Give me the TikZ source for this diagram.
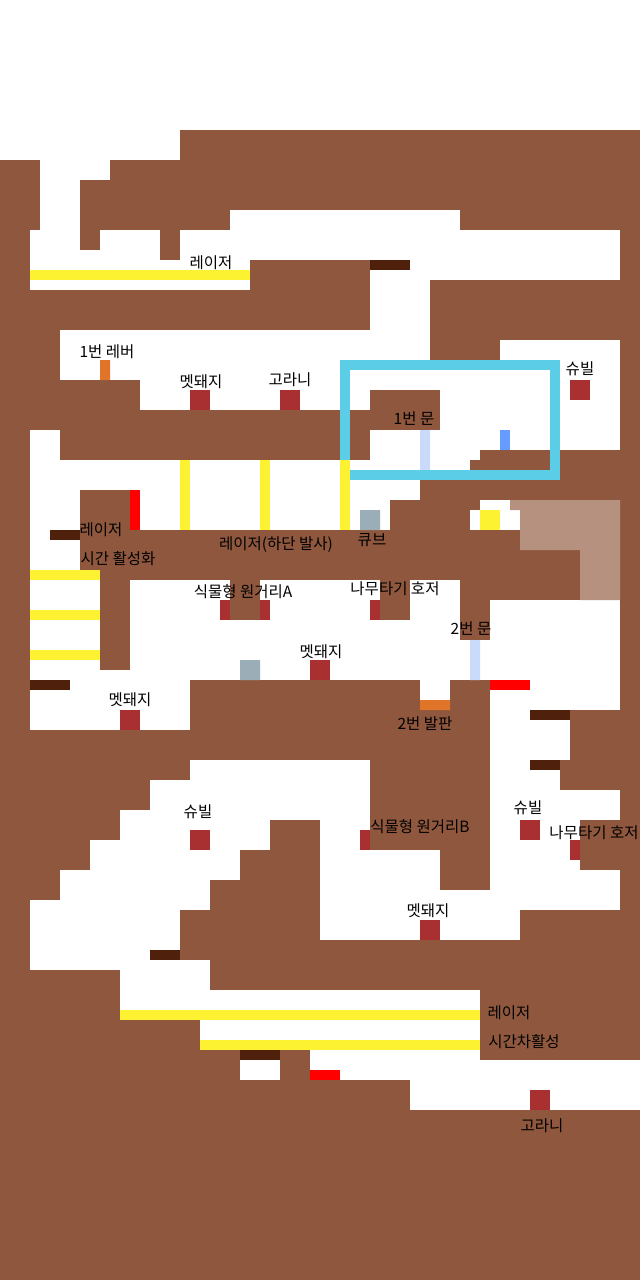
\documentclass[tikz,border=0pt]{standalone}
\usepackage{fontspec}
\setmainfont{Noto Sans CJK KR}
\definecolor{ground}{HTML}{8F573D}
\definecolor{laser}{HTML}{FCF232}
\definecolor{frameblue}{HTML}{5CCDE6}
\definecolor{platform}{HTML}{4F210C}
\definecolor{enemy}{HTML}{A93030}
\definecolor{switchor}{HTML}{E07428}
\definecolor{doorlight}{HTML}{C9DAFB}
\definecolor{doorblue}{HTML}{669CFF}
\definecolor{cube}{HTML}{9BADB7}
\definecolor{tan}{HTML}{B79180}
\tikzset{
  air/.style={fill=white},
  rock/.style={fill=ground},
  beam/.style={fill=laser},
  frm/.style={fill=frameblue},
  plat/.style={fill=platform},
  foe/.style={fill=enemy},
  hot/.style={fill=red},
  lab/.style={inner sep=0pt,yshift=-0.5pt,font=\fontsize{15.5}{18}\selectfont,text=black}
}
\begin{document}
\begin{tikzpicture}[x=1pt,y=-1pt]
\useasboundingbox (0,0) rectangle (640,1280);
\fill[air] (0,0) rectangle (640,1280);
\fill[rock] (0,160) rectangle (640,1280);
\fill[rock] (180,130) rectangle (640,160);
% open space
\foreach \a/\b/\c/\d in {
 40/160/110/180, 40/180/80/230, 30/230/80/290, 80/250/250/290, 100/230/160/250, 160/260/180/290,
 180/230/250/260, 230/210/460/230, 250/230/620/260, 370/260/620/280, 370/280/430/330,
 60/330/430/380, 140/380/430/410, 370/330/430/390, 430/360/500/450, 500/340/620/450,
 370/390/480/460, 480/370/550/450, 370/430/480/450, 350/460/470/480,
 30/430/60/460, 30/460/420/500, 30/500/390/530, 30/530/80/570, 30/570/100/670, 30/670/190/730,
 130/580/460/680, 460/640/490/680, 420/680/450/700,
 480/500/510/510, 470/510/520/530,
 490/600/620/710, 490/710/570/760, 490/760/560/790, 490/790/620/820, 490/820/580/870, 490/870/620/910,
 320/890/520/940, 320/850/440/890, 320/820/370/850,
 190/760/370/780, 150/780/370/810, 120/810/370/820, 120/820/270/840, 90/840/270/850, 90/850/240/870,
 60/870/240/880, 60/880/210/900, 30/900/210/910, 30/910/180/960, 30/960/210/970, 120/970/210/990,
 120/990/480/1010, 120/1010/480/1020, 200/1020/480/1050,
 240/1060/280/1080, 310/1050/480/1060, 310/1060/640/1080, 410/1080/640/1110}
 {\fill[air] (\a,\b) rectangle (\c,\d);}
% rock overlays
\foreach \a/\b/\c/\d in {
 370/390/440/430, 80/490/130/570, 100/570/130/670,
 230/580/260/620, 380/580/410/620, 160/230/180/260, 80/230/100/250, 250/260/370/330,
 470/460/550/480, 480/450/550/470}
 {\fill[rock] (\a,\b) rectangle (\c,\d);}
% tan area
\fill[tan] (510,500) rectangle (620,510) (520,510) rectangle (620,550) (580,550) rectangle (620,600);
% lasers
\foreach \a/\b/\c/\d in {
 30/270/250/280, 180/460/190/530, 260/460/270/530, 340/460/350/530, 30/570/100/580, 30/610/100/620, 30/650/100/660,
 480/510/500/530, 120/1010/480/1020, 200/1040/480/1050}
 {\fill[beam] (\a,\b) rectangle (\c,\d);}
% platforms
\foreach \a/\b/\c/\d in {370/260/410/270, 50/530/80/540, 30/680/70/690, 530/710/570/720, 530/760/560/770, 150/950/180/960, 240/1050/280/1060}
 {\fill[plat] (\a,\b) rectangle (\c,\d);}
% red
\foreach \a/\b/\c/\d in {130/490/140/530, 490/680/530/690, 310/1070/340/1080}
 {\fill[hot] (\a,\b) rectangle (\c,\d);}
% doors, switches, cubes
\fill[doorlight] (420,430) rectangle (430,470) (470,640) rectangle (480,680);
\fill[doorblue] (500,430) rectangle (510,450);
\fill[switchor] (100,360) rectangle (110,380) (420,700) rectangle (450,710);
\fill[cube] (360,510) rectangle (380,530) (240,660) rectangle (260,680);
% frame
\foreach \a/\b/\c/\d in {340/360/560/370, 340/360/350/460, 550/360/560/480, 350/470/560/480}
 {\fill[frm] (\a,\b) rectangle (\c,\d);}
% enemies
\foreach \a/\b/\c/\d in {190/390/210/410, 280/390/300/410, 570/380/590/400, 220/600/230/620, 260/600/270/620, 370/600/380/620,
 310/660/330/680, 120/710/140/730, 190/830/210/850, 520/820/540/840, 570/840/580/860, 360/830/370/850, 420/920/440/940, 530/1090/550/1110}
 {\fill[foe] (\a,\b) rectangle (\c,\d);}
% labels
\node[lab] (l1) at (211,262) {레이저};
\node[lab] (l2) at (107,351) {1번 레버};
\node[lab] (l3) at (201,381) {멧돼지};
\node[lab] (l4) at (290,379) {고라니};
\node[lab] (l5) at (580,368) {슈빌};
\node[lab] (l6) at (414,418) {1번 문};
\node[lab] (l7) at (101,529) {레이저};
\node[lab] (l8) at (118,558) {시간 활성화};
\node[lab] (l9) at (276,544) {레이저(하단 발사)};
\node[lab] (l10) at (372,540) {큐브};
\node[lab] (l11) at (243,591) {식물형 원거리A};
\node[lab] (l12) at (395,588) {나무타기 호저};
\node[lab] (l13) at (471,628) {2번 문};
\node[lab] (l14) at (321,651) {멧돼지};
\node[lab] (l15) at (130,699) {멧돼지};
\node[lab] (l16) at (425,723) {2번 발판};
\node[lab] (l17) at (198,811) {슈빌};
\node[lab] (l18) at (528,807) {슈빌};
\node[lab] (l19) at (420,826) {식물형 원거리B};
\node[lab] (l20) at (594,832) {나무타기 호저};
\node[lab] (l21) at (428,910) {멧돼지};
\node[lab] (l22) at (509,1012) {레이저};
\node[lab] (l23) at (524,1041) {시간차활성};
\node[lab] (l24) at (542,1125) {고라니};
\end{tikzpicture}
\end{document}
